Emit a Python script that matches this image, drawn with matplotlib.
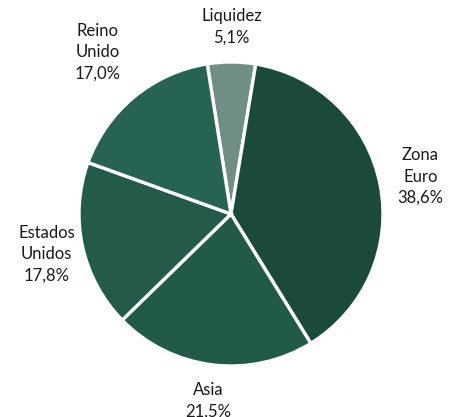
import numpy as np
import matplotlib.pyplot as plt

labels = ['Liquidez', 'Zona\nEuro', 'Asia', 'Estados\nUnidos', 'Reino\nUnido']
values = [5.1, 38.6, 21.5, 17.8, 17.0]
colors = ['#6f8f84', '#1b4a3b', '#215a47', '#235a4a', '#276352']
label_dist = [1.23, 1.27, 1.24, 1.24, 1.38]

plt.rcParams['font.family'] = ['Lato', 'DejaVu Sans']

fig = plt.figure(figsize=(4.59, 4.17), dpi=100)
ax = fig.add_axes([0, 0, 1, 1])

wedges, _ = ax.pie(values, colors=colors, startangle=99, counterclock=False,
                   radius=1, wedgeprops=dict(edgecolor='white', linewidth=2.4))

for w, lab, v, d in zip(wedges, labels, values, label_dist):
    mid = np.deg2rad((w.theta1 + w.theta2) / 2)
    txt = lab + '\n' + f'{v:.1f}%'.replace('.', ',')
    ax.text(d * np.cos(mid), d * np.sin(mid), txt, ha='center', va='center',
            fontsize=12, color='#1a1a1a', linespacing=1.4)

ax.set_aspect('auto')
ax.set_xlim(-231 / 152, (459 - 231) / 152)
ax.set_ylim(-203 / 152, 214 / 152)
ax.axis('off')

fig.savefig('out.png', dpi=100)
